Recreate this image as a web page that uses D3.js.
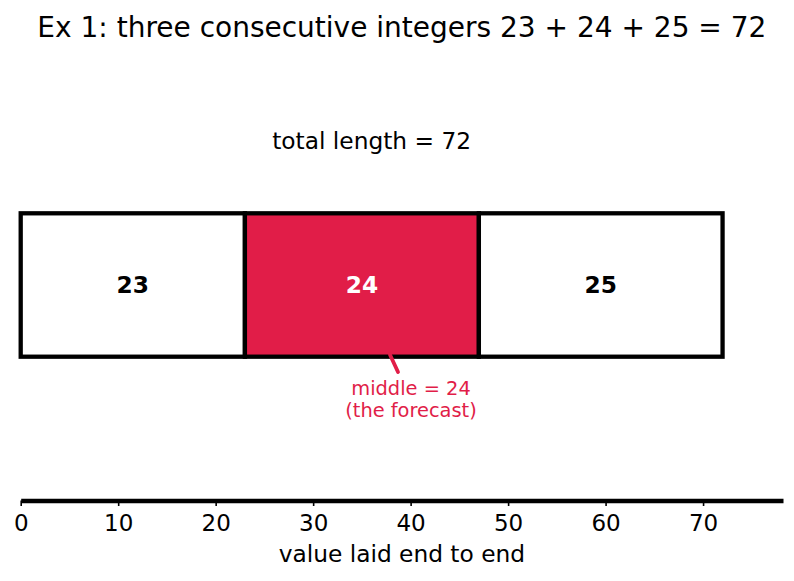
<!DOCTYPE html>
<html><head><meta charset="utf-8">
<script src="https://cdn.jsdelivr.net/npm/d3@7"></script>
<style>body{margin:0;background:#fff}svg{display:block}text{font-family:"DejaVu Sans",sans-serif}</style>
</head><body><svg id="c" width="794" height="581"></svg>
<script>
const titleText = "Ex 1: three consecutive integers 23 + 24 + 25 = 72";
const categories = ["23", "24", "25"];
const values = [23, 24, 25];
const highlightIndex = 1;
const tickValues = [0, 10, 20, 30, 40, 50, 60, 70];
const xLabel = "value laid end to end";
const totalLabel = "total length = 72";
const annotLines = ["middle = 24", "(the forecast)"];

const svg = d3.select("#c");
const red = "#e11d48";
const x = d3.scaleLinear().domain([0, 78.2]).range([20.7, 783]);
const axisY = 500.5;
const boxTop = 213.3, boxBottom = 356.7;

let starts = [], acc = 0;
values.forEach(v => { starts.push(acc); acc += v; });
const cx = (x.range()[0] + x.range()[1]) / 2;

svg.append("text").attr("x", cx).attr("y", 37).attr("text-anchor", "middle")
  .attr("font-size", 28).text(titleText);

svg.append("text").attr("x", x(acc/2)).attr("y", 149).attr("text-anchor", "middle")
  .attr("font-size", 23.3).text(totalLabel);

const g = svg.append("g");
g.selectAll("rect").data(values).join("rect")
  .attr("x", (d,i) => x(starts[i])).attr("width", d => x(d) - x(0))
  .attr("y", boxTop).attr("height", boxBottom - boxTop)
  .attr("fill", (d,i) => i === highlightIndex ? red : "#fff")
  .attr("stroke", "#000").attr("stroke-width", 4.3);

g.selectAll("text.v").data(values).join("text").attr("class","v")
  .attr("x", (d,i) => x(starts[i] + d/2)).attr("y", (boxTop + boxBottom)/2)
  .attr("dy", "0.35em").attr("text-anchor", "middle")
  .attr("font-size", 23.3).attr("font-weight", "bold")
  .attr("fill", (d,i) => i === highlightIndex ? "#fff" : "#000")
  .text((d,i) => categories[i]);

// annotation
const mid = starts[highlightIndex] + values[highlightIndex]/2;
svg.append("line").attr("x1", 390).attr("y1", boxBottom - 2).attr("x2", 398).attr("y2", 372)
  .attr("stroke", red).attr("stroke-width", 3.8).attr("stroke-linecap", "round");
svg.selectAll("text.a").data(annotLines).join("text").attr("class","a")
  .attr("x", 411).attr("y", (d,i) => 395 + i*21.5).attr("text-anchor", "middle")
  .attr("font-size", 19.4).attr("fill", red).text(d => d);

// axis
const ax = svg.append("g").attr("transform", `translate(0,${axisY})`)
  .call(d3.axisBottom(x).tickValues(tickValues).tickSize(5.5).tickPadding(8.5).tickSizeOuter(0));
ax.select(".domain").attr("stroke-width", 4.3).attr("stroke", "#000");
ax.selectAll(".tick line").attr("stroke-width", 1.6).attr("stroke", "#000");
ax.selectAll(".tick text").attr("font-size", 23).attr("fill", "#000");
svg.append("text").attr("x", cx).attr("y", 562).attr("text-anchor", "middle")
  .attr("font-size", 23.3).text(xLabel);
</script></body></html>
